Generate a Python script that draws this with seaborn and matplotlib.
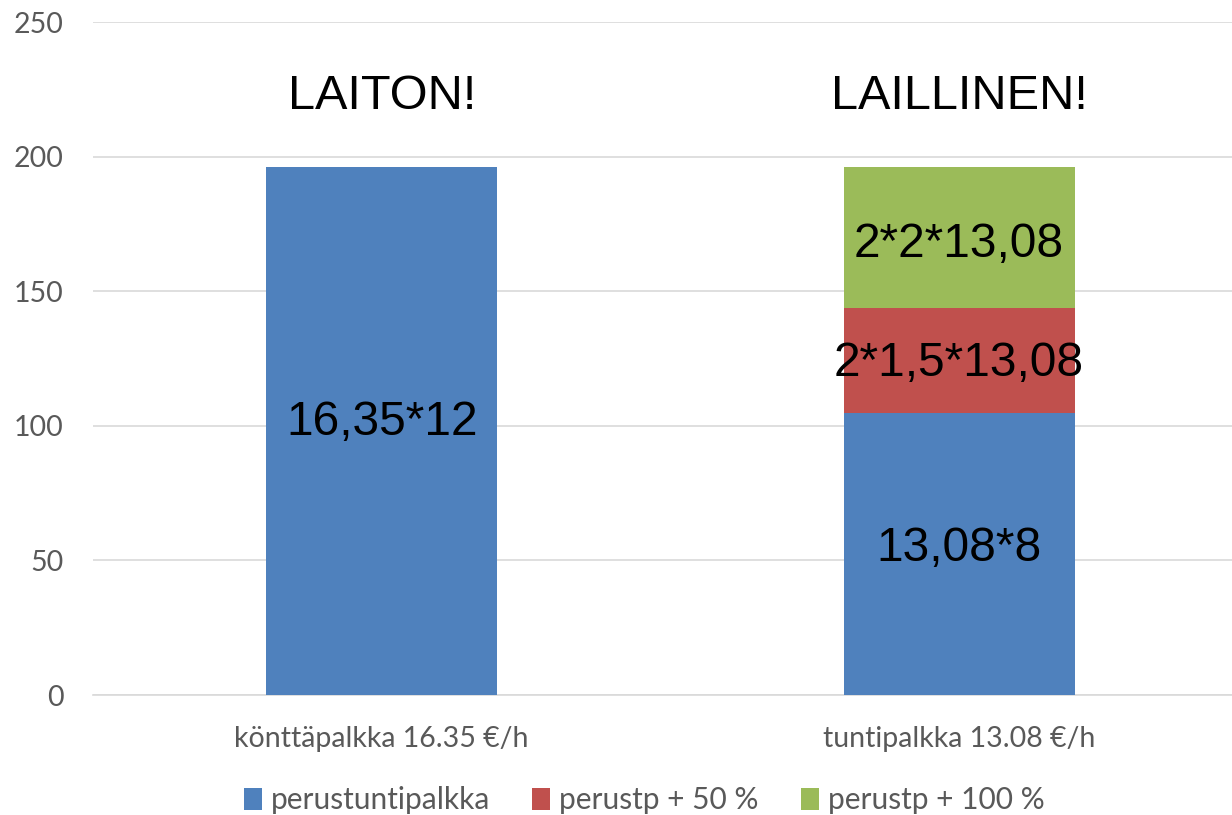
import matplotlib
matplotlib.use("Agg")
import matplotlib.pyplot as plt
import seaborn as sns
import pandas as pd
from matplotlib.patches import Patch

categories = ["könttäpalkka 16.35 €/h", "tuntipalkka 13.08 €/h"]
series_names = ["perustuntipalkka", "perustp + 50 %", "perustp + 100 %"]
perus = [196.2, 104.64]
plus50 = [0.0, 39.24]
plus100 = [0.0, 52.32]
seg_labels = [["16,35*12", "13,08*8"], ["", "2*1,5*13,08"], ["", "2*2*13,08"]]
top_labels = ["LAITON!", "LAILLINEN!"]
colors = ["#4F81BD", "#C0504D", "#9BBB59"]

# small vertical nudges (points) for segment labels, as placed in the original
seg_dy = [[6, 4], [0, -2], [0, -5]]

sns.set_theme(style="white")
plt.rcParams['font.family'] = ['Lato', 'DejaVu Sans']

fig = plt.figure(figsize=(12.32, 8.15), dpi=100)
ax = fig.add_axes([0.0755, 0.1472, 1 - 0.0755, 0.973 - 0.1472])

df = pd.DataFrame({"cat": categories, "perus": perus, "p50": plus50, "p100": plus100})
bottom = [0.0, 0.0]
for i, (col, name) in enumerate(zip(["perus", "p50", "p100"], series_names)):
    vals = df[col].tolist()
    sns.barplot(x=df["cat"], y=df[col], bottom=bottom, color=colors[i], width=0.4,
                ax=ax, saturation=1, linewidth=0, zorder=3)
    for j, v in enumerate(vals):
        if v > 0 and seg_labels[i][j]:
            ax.annotate(seg_labels[i][j], (j, bottom[j] + v / 2),
                        xytext=(0, seg_dy[i][j]), textcoords="offset points",
                        ha="center", va="center", fontsize=34.5,
                        family="Liberation Sans", color="black", zorder=5)
    bottom = [b + v for b, v in zip(bottom, vals)]

for j, t in enumerate(top_labels):
    ax.text(j, 222.5, t, ha="center", va="center", fontsize=35,
            family="Liberation Sans", color="black")

ax.set_ylim(0, 250)
ax.set_xlim(-0.5, (1232 - 92.75) / 577.5 - 0.5)
ax.set_yticks([0, 50, 100, 150, 200, 250])
ax.yaxis.grid(True, color="#D9D9D9", linewidth=1.2, zorder=0)
ax.set_axisbelow(True)
for s in ["top", "right", "left"]:
    ax.spines[s].set_visible(False)
ax.spines["bottom"].set_color("#D9D9D9")
ax.spines["bottom"].set_linewidth(1.2)
ax.set_xlabel("")
ax.set_ylabel("")
ax.tick_params(axis="both", length=0, labelsize=20.5, colors="#595959")
ax.tick_params(axis="y", pad=21)
ax.tick_params(axis="x", pad=22)

handles = [Patch(facecolor=c, edgecolor="none") for c in colors]
fig.legend(handles, series_names, loc="center", bbox_to_anchor=(0.523, 0.018),
           ncol=3, frameon=False, fontsize=21.5, handlelength=0.6, handleheight=0.75,
           handletextpad=0.3, columnspacing=1.4, labelcolor="#595959")

fig.savefig("out.png", dpi=100)
